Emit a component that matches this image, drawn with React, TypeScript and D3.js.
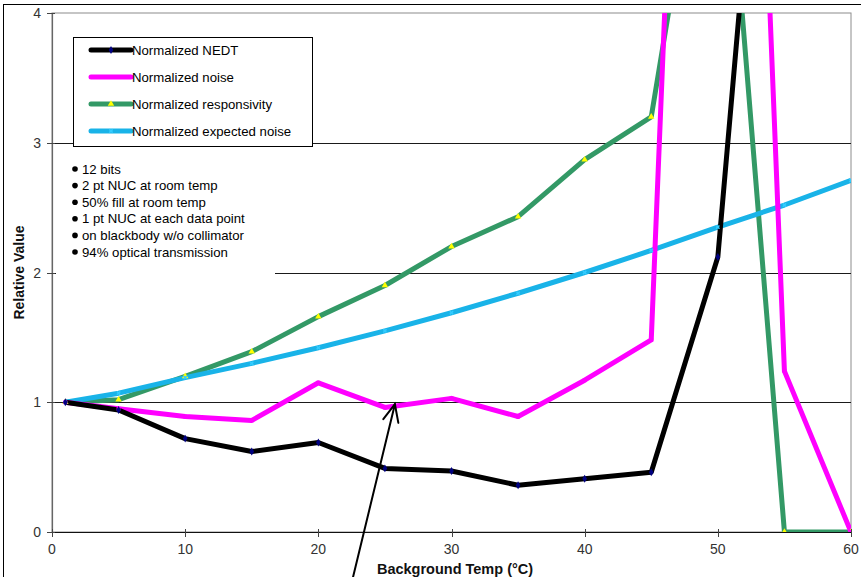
import React from "react";
import * as d3 from "d3";

const temps = [1, 5, 10, 15, 20, 25, 30, 35, 40, 45, 50, 55, 60];
const nedt = [1.0, 0.94, 0.72, 0.62, 0.69, 0.49, 0.47, 0.36, 0.41, 0.46, 2.12, 8.0, null];
const noise = [1.0, 0.95, 0.89, 0.86, 1.15, 0.96, 1.03, 0.89, 1.17, 1.48, 14.0, 1.24, 0.0];
const responsivity = [1.0, 1.02, 1.2, 1.39, 1.66, 1.9, 2.2, 2.43, 2.87, 3.2, 6.3, 0.0, 0.0];
const expectedNoise = [1.0, 1.07, 1.19, 1.3, 1.42, 1.55, 1.69, 1.84, 2.0, 2.17, 2.35, 2.52, 2.71];

const xTicks = [0, 10, 20, 30, 40, 50, 60];
const yTicks = [0, 1, 2, 3, 4];
const legendLabels = [
  "Normalized NEDT",
  "Normalized noise",
  "Normalized responsivity",
  "Normalized expected noise",
];
const notes = [
  "12 bits",
  "2 pt NUC at room temp",
  "50% fill at room temp",
  "1 pt NUC at each data point",
  "on blackbody w/o collimator",
  "94% optical transmission",
];
// annotation arrow in data coordinates: [tail, tip]
const arrowTail = { x: 22.6, y: -0.35 };
const arrowTip = { x: 25.75, y: 0.985 };

const W = 861;
const H = 577;
const left = 52;
const right = 851;
const top = 13;
const bottom = 532;

type Series = { name: string; values: (number | null)[]; color: string; marker: string; markerColor: string };

export default function App() {
  const x = d3.scaleLinear().domain([0, 60]).range([left, right]);
  const y = d3.scaleLinear().domain([0, 4]).range([bottom, top]);

  const series: Series[] = [
    { name: legendLabels[2], values: responsivity, color: "#339966", marker: "triangle", markerColor: "#FFFF00" },
    { name: legendLabels[3], values: expectedNoise, color: "#19B3E8", marker: "x", markerColor: "#33CCFF" },
    { name: legendLabels[1], values: noise, color: "#FF00FF", marker: "square", markerColor: "#FF00FF" },
    { name: legendLabels[0], values: nedt, color: "#000000", marker: "diamond", markerColor: "#000080" },
  ];

  const line = d3
    .line<[number, number | null]>()
    .defined((d) => d[1] !== null)
    .x((d) => x(d[0]))
    .y((d) => y(d[1] as number));

  const markerPath = (kind: string, s: number) => {
    if (kind === "triangle") return d3.symbol(d3.symbolTriangle, s * 6)()!;
    if (kind === "square") return d3.symbol(d3.symbolSquare, s * 5)()!;
    if (kind === "diamond") return d3.symbol(d3.symbolDiamond, s * 6)()!;
    return d3.symbol(d3.symbolCross, s * 4)()!;
  };

  const legendOrder = [3, 2, 0, 1];

  // arrow geometry
  const tx = x(arrowTip.x), ty = y(arrowTip.y);
  const sx = x(arrowTail.x), sy = y(arrowTail.y);
  const ang = Math.atan2(sy - ty, sx - tx);
  const headLen = 19;
  const spread = 0.42;
  const h1 = [tx + headLen * Math.cos(ang - spread), ty + headLen * Math.sin(ang - spread)];
  const h2 = [tx + headLen * Math.cos(ang + spread), ty + headLen * Math.sin(ang + spread)];

  const tickFont = "'Liberation Sans Narrow', 'Arial Narrow', 'Liberation Sans', Arial, sans-serif";
  const font = "'Liberation Sans', Arial, sans-serif";

  return (
    <svg
      width={W}
      height={H}
      style={{ position: "absolute", left: 0, top: 0, background: "#fff" }}
    >
      <defs>
        <clipPath id="plotclip">
          <rect x={left} y={top} width={right - left} height={bottom - top} />
        </clipPath>
      </defs>
      {/* outer frame */}
      <rect x={3.5} y={4.5} width={W + 10} height={H + 10} fill="none" stroke="#000" strokeWidth={1} />

      {/* plot border */}
      <rect x={left} y={top} width={right - left} height={bottom - top} fill="none" stroke="#8c8c8c" strokeWidth={1} />

      {/* grid lines */}
      {yTicks.filter((t) => t > 0 && t < 4).map((t) => (
        <line key={t} x1={left} x2={right} y1={Math.round(y(t)) + 0.5} y2={Math.round(y(t)) + 0.5} stroke="#1a1a1a" strokeWidth={1} />
      ))}

      {/* axes */}
      <line x1={left + 0.5} x2={left + 0.5} y1={top} y2={bottom} stroke="#666" strokeWidth={1.2} />
      <line x1={left} x2={right} y1={bottom + 0.5} y2={bottom + 0.5} stroke="#111" strokeWidth={1.2} />
      {yTicks.map((t) => (
        <g key={"y" + t}>
          <line x1={left - 5} x2={left + 3} y1={Math.round(y(t)) + 0.5} y2={Math.round(y(t)) + 0.5} stroke="#444" />
          <text x={left - 11} y={y(t) + 5} textAnchor="end" fontFamily={tickFont} fontSize={14} fill="#333">
            {t}
          </text>
        </g>
      ))}
      {xTicks.map((t) => (
        <g key={"x" + t}>
          <line x1={Math.round(x(t)) + 0.5} x2={Math.round(x(t)) + 0.5} y1={bottom - 3} y2={bottom + 5} stroke="#444" />
          <text x={x(t)} y={bottom + 22} textAnchor="middle" fontFamily={tickFont} fontSize={14} fill="#333">
            {t}
          </text>
        </g>
      ))}

      {/* axis titles */}
      <text
        x={455}
        y={574}
        textAnchor="middle"
        fontFamily={tickFont}
        fontWeight="bold"
        fontSize={14.5}
        fill="#111"
      >
        Background Temp (°C)
      </text>
      <text
        transform={`translate(24, ${(top + bottom) / 2}) rotate(-90)`}
        textAnchor="middle"
        fontFamily={tickFont}
        fontWeight="bold"
        fontSize={14}
        fill="#111"
      >
        Relative Value
      </text>

      {/* series */}
      <g clipPath="url(#plotclip)">
        {series.map((s) => (
          <path
            key={s.name}
            d={line(temps.map((t, i) => [t, s.values[i]]))!}
            fill="none"
            stroke={s.color}
            strokeWidth={5}
            strokeLinejoin="round"
          />
        ))}
        {series.map((s) =>
          temps.map((t, i) =>
            s.values[i] === null || (s.values[i] as number) > 4 ? null : (
              <path
                key={s.name + i}
                d={markerPath(s.marker, 3)}
                transform={`translate(${x(t)},${y(s.values[i] as number)})${s.marker === "x" ? " rotate(45)" : ""}`}
                fill={s.markerColor}
              />
            )
          )
        )}
      </g>

      {/* notes box */}
      <rect x={56} y={156} width={219} height={121} fill="#fff" />
      {notes.map((n, i) => (
        <g key={n}>
          <circle cx={75} cy={169 + i * 16.6} r={2.8} fill="#000" />
          <text x={82} y={173.5 + i * 16.6} fontFamily={font} fontSize={13.2} fill="#000">
            {n}
          </text>
        </g>
      ))}

      {/* legend */}
      <rect x={73.5} y={37.5} width={239} height={109} fill="#fff" stroke="#000" strokeWidth={1} />
      {legendOrder.map((si, i) => {
        const s = series[si];
        const ly = 50 + i * 27;
        return (
          <g key={s.name}>
            <line x1={91} x2={131} y1={ly} y2={ly} stroke={s.color} strokeWidth={5} strokeLinecap="round" />
            <path
              d={markerPath(s.marker, 3)}
              transform={`translate(111,${ly})${s.marker === "x" ? " rotate(45)" : ""}`}
              fill={s.markerColor}
            />
            <text x={132} y={ly + 4.5} fontFamily={font} fontSize={13.2} fill="#000">
              {s.name}
            </text>
          </g>
        );
      })}

      {/* annotation arrow */}
      <g stroke="#000" strokeWidth={2} fill="none" strokeLinecap="round">
        <line x1={sx} y1={sy} x2={tx} y2={ty} />
        <polyline points={`${h1[0]},${h1[1]} ${tx},${ty} ${h2[0]},${h2[1]}`} />
      </g>
    </svg>
  );
}
